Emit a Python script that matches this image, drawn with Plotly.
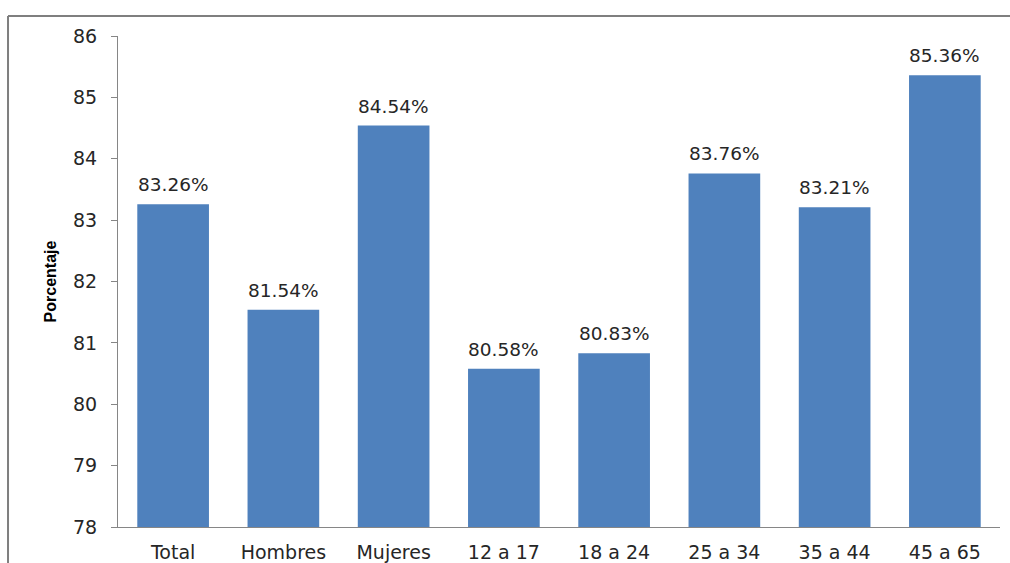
import plotly.graph_objects as go

categories = ["Total", "Hombres", "Mujeres", "12 a 17", "18 a 24", "25 a 34", "35 a 44", "45 a 65"]
values = [83.26, 81.54, 84.54, 80.58, 80.83, 83.76, 83.21, 85.36]
y_ticks = [78, 79, 80, 81, 82, 83, 84, 85, 86]

BAR_COLOR = "#4F81BD"
TEXT_COLOR = "#262626"
FONT = "DejaVu Sans"

fig = go.Figure(
    go.Bar(
        x=categories,
        y=values,
        marker=dict(color=BAR_COLOR, line=dict(width=0)),
        width=0.65,
        hoverinfo="x+y",
    )
)

# percentage labels above each bar
for cat, v in zip(categories, values):
    fig.add_annotation(
        x=cat, y=v, text=f"{v:.2f}%",
        showarrow=False, yanchor="bottom", yshift=7,
        font=dict(family=FONT, size=18.5, color=TEXT_COLOR),
    )

fig.update_layout(
    width=1010,
    height=563,
    margin=dict(l=118, r=10, t=36, b=36),
    paper_bgcolor="white",
    plot_bgcolor="white",
    showlegend=False,
    font=dict(family=FONT, size=19, color=TEXT_COLOR),
    xaxis=dict(
        automargin=False,
        showline=True,
        linecolor="#868686",
        linewidth=1,
        ticks="",
        showgrid=False,
        ticklabelstandoff=8,
        tickfont=dict(family=FONT, size=19, color=TEXT_COLOR),
    ),
    yaxis=dict(
        automargin=False,
        range=[78, 86],
        tickvals=y_ticks,
        showline=True,
        linecolor="#868686",
        linewidth=1,
        ticks="outside",
        ticklen=6,
        tickcolor="#868686",
        showgrid=False,
        zeroline=False,
        ticklabelstandoff=10,
        tickfont=dict(family=FONT, size=19, color=TEXT_COLOR),
        title=dict(
            text="<b>Porcentaje</b>",
            font=dict(family="Liberation Sans", size=16, color="black"),
            standoff=12,
        ),
    ),
    shapes=[
        # outer frame: left and top edges
        dict(type="line", xref="paper", yref="paper",
             x0=-0.1247, x1=-0.1247, y0=1.0407, y1=-0.1,
             line=dict(color="#7f7f7f", width=2)),
        dict(type="line", xref="paper", yref="paper",
             x0=-0.1247, x1=1.02, y0=1.0407, y1=1.0407,
             line=dict(color="#7f7f7f", width=2)),
    ],
)

fig.write_html("out.html")
